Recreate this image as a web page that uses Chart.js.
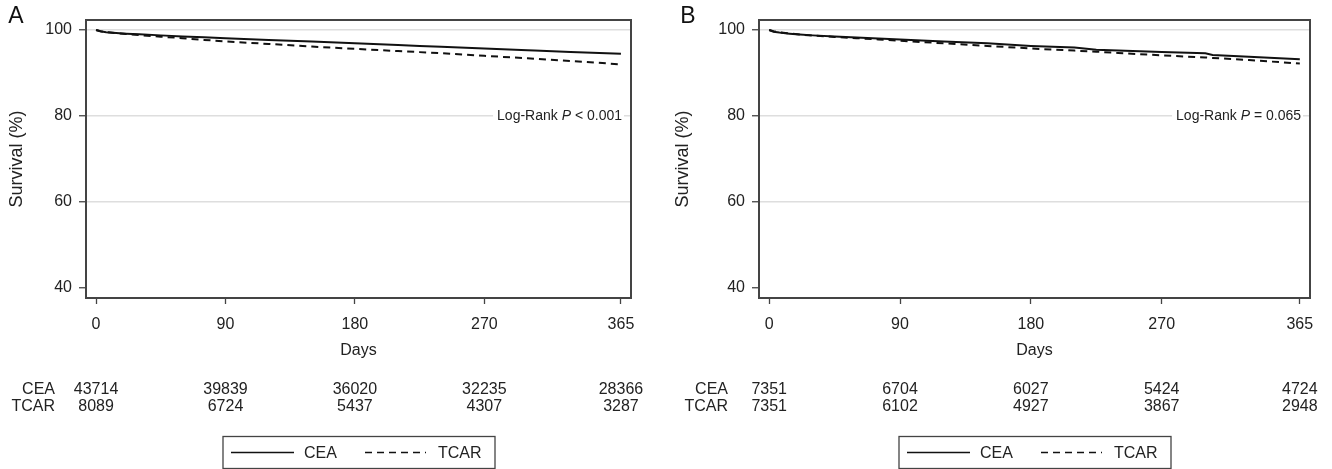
<!DOCTYPE html>
<html>
<head>
<meta charset="utf-8">
<script src="https://cdn.jsdelivr.net/npm/chart.js@4.4.1/dist/chart.umd.min.js"></script>
<style>
  html, body { margin: 0; padding: 0; background: #fff; }
  #wrap { position: relative; width: 1332px; height: 469px; overflow: hidden; }
  .panel { position: absolute; top: 0; width: 666px; height: 469px; }
</style>
</head>
<body>
<div id="wrap">
  <div class="panel" style="left:0"><canvas id="chartA"></canvas></div>
  <div class="panel" style="left:666px"><canvas id="chartB"></canvas></div>
</div>
<script>
const days = [0, 3, 7, 14, 21, 30, 45, 60, 75, 90, 120, 150, 180, 210, 225, 240, 270, 300, 305, 330, 365];

// panel A - survival (%)
const ceaA  = [100, 99.7, 99.5, 99.3, 99.15, 99.0, 98.75, 98.5, 98.3, 98.1, 97.7, 97.3, 96.9, 96.5, 96.3, 96.1, 95.7, 95.3, 95.25, 94.9, 94.5];
const tcarA = [100, 99.7, 99.5, 99.25, 99.05, 98.8, 98.45, 98.1, 97.7, 97.35, 96.75, 96.15, 95.6, 95.1, 94.85, 94.6, 94.0, 93.4, 93.3, 92.8, 92.0];

// panel B - survival (%)
const ceaB  = [100, 99.6, 99.4, 99.15, 98.95, 98.75, 98.5, 98.25, 98.0, 97.8, 97.3, 96.9, 96.3, 95.9, 95.4, 95.25, 94.9, 94.6, 94.2, 93.8, 93.2];
const tcarB = [100, 99.7, 99.45, 99.2, 98.95, 98.7, 98.4, 98.1, 97.8, 97.5, 96.9, 96.3, 95.7, 95.2, 94.95, 94.65, 94.1, 93.6, 93.5, 93.0, 92.2];

// axes
const xTicks = [0, 90, 180, 270, 365];
const yTicks = [40, 60, 80, 100];

// number at risk, at each x tick
const riskCeaA  = [43714, 39839, 36020, 32235, 28366];
const riskTcarA = [8089, 6724, 5437, 4307, 3287];
const riskCeaB  = [7351, 6704, 6027, 5424, 4724];
const riskTcarB = [7351, 6102, 4927, 3867, 2948];

const groups = ['CEA', 'TCAR'];

const FONT = '"Liberation Sans", Arial, sans-serif';
const INK = '#222';
const FRAME = '#444';

// frame, panel letter, p value, risk table and legend box
const extras = {
  id: 'extras',
  afterDraw(chart, args, opts) {
    const { ctx, chartArea: a, scales: { x, y } } = chart;
    ctx.save();

    ctx.strokeStyle = FRAME;
    ctx.lineWidth = 2;
    ctx.strokeRect(a.left, a.top, a.right - a.left, a.bottom - a.top);

    ctx.fillStyle = '#111';
    ctx.font = '23px ' + FONT;
    ctx.textAlign = 'center';
    ctx.textBaseline = 'middle';
    ctx.fillText(opts.letter, opts.letterX, 17);

    // log-rank text, sits on the 80 gridline with a white backing
    const parts = [['Log-Rank ', ''], ['P', 'italic '], [opts.pText, '']];
    let w = 0;
    parts.forEach(p => { ctx.font = p[1] + '14px ' + FONT; w += ctx.measureText(p[0]).width; });
    const py = y.getPixelForValue(80);
    let px = a.right - 9 - w;
    ctx.fillStyle = '#fff';
    ctx.fillRect(px - 4, py - 9, w + 6, 18);
    ctx.fillStyle = INK;
    ctx.textAlign = 'left';
    parts.forEach(p => {
      ctx.font = p[1] + '14px ' + FONT;
      ctx.fillText(p[0], px, py);
      px += ctx.measureText(p[0]).width;
    });

    // number at risk
    ctx.font = '16px ' + FONT;
    const rows = [opts.riskCea, opts.riskTcar];
    const rowY = [390, 407];
    rows.forEach((row, r) => {
      ctx.textAlign = 'right';
      ctx.fillText(groups[r], a.left - 31, rowY[r]);
      ctx.textAlign = 'center';
      row.forEach((n, i) => ctx.fillText(String(n), x.getPixelForValue(xTicks[i]), rowY[r]));
    });

    // legend
    const bw = 272, bh = 32;
    const bx = Math.round((a.left + a.right) / 2 - bw / 2);
    const by = 436.5;
    ctx.strokeStyle = FRAME;
    ctx.lineWidth = 1.3;
    ctx.strokeRect(bx, by, bw, bh);
    const ly = by + bh / 2;
    const ds = chart.data.datasets;
    const items = [[8, 71, 81], [142, 203, 215]];
    items.forEach((it, i) => {
      ctx.strokeStyle = ds[i].borderColor;
      ctx.lineWidth = 1.6;
      ctx.setLineDash(ds[i].borderDash || []);
      ctx.beginPath();
      ctx.moveTo(bx + it[0], ly);
      ctx.lineTo(bx + it[1], ly);
      ctx.stroke();
      ctx.setLineDash([]);
      ctx.fillStyle = INK;
      ctx.font = '16px ' + FONT;
      ctx.textAlign = 'left';
      ctx.fillText(ds[i].label, bx + it[2], ly + 1);
    });

    ctx.restore();
  }
};

function makeChart(id, cea, tcar, cfg) {
  return new Chart(document.getElementById(id), {
    type: 'line',
    data: {
      datasets: [
        { label: groups[0], data: days.map((d, i) => ({ x: d, y: cea[i] })),
          borderColor: '#111', borderWidth: 2, pointRadius: 0, tension: 0 },
        { label: groups[1], data: days.map((d, i) => ({ x: d, y: tcar[i] })),
          borderColor: '#111', borderWidth: 2, borderDash: [7, 5], pointRadius: 0, tension: 0 }
      ]
    },
    options: {
      responsive: true,
      maintainAspectRatio: false,
      animation: false,
      devicePixelRatio: 1,
      layout: { padding: { left: 0, right: cfg.padRight, top: 20, bottom: 107 } },
      plugins: {
        legend: { display: false },
        tooltip: { enabled: false },
        extras: cfg.extras
      },
      scales: {
        x: {
          type: 'linear',
          min: -7,
          max: 372,
          afterBuildTicks: s => { s.ticks = xTicks.map(v => ({ value: v })); },
          afterFit: s => { s.height = 64; },
          grid: { display: true, drawOnChartArea: false, drawTicks: true, tickLength: 6, tickColor: FRAME, tickWidth: 1.3 },
          border: { display: false },
          ticks: { padding: 11, color: INK, font: { family: FONT, size: 16 }, maxRotation: 0, autoSkip: false },
          title: { display: true, text: 'Days', color: INK, font: { family: FONT, size: 16 }, padding: { top: 4, bottom: 2 } }
        },
        y: {
          min: 37.6,
          max: 102.33,
          afterBuildTicks: s => { s.ticks = yTicks.map(v => ({ value: v })); },
          afterFit: s => { s.width = cfg.yWidth; },
          grid: {
            color: c => (c.tick && c.tick.value === 40) ? 'rgba(0,0,0,0)' : '#dedede',
            lineWidth: 1.5,
            tickColor: FRAME,
            tickLength: 7,
            tickWidth: 1.3
          },
          border: { display: false },
          ticks: { padding: 7, color: INK, font: { family: FONT, size: 16 } },
          title: { display: true, text: 'Survival (%)', color: INK, font: { family: FONT, size: 18 }, padding: { top: 6, bottom: 4 } }
        }
      }
    },
    plugins: [extras]
  });
}

makeChart('chartA', ceaA, tcarA, {
  padRight: 35, yWidth: 86,
  extras: { letter: 'A', letterX: 16, pText: ' < 0.001', riskCea: riskCeaA, riskTcar: riskTcarA }
});
makeChart('chartB', ceaB, tcarB, {
  padRight: 22, yWidth: 93,
  extras: { letter: 'B', letterX: 22, pText: ' = 0.065', riskCea: riskCeaB, riskTcar: riskTcarB }
});
</script>
</body>
</html>
